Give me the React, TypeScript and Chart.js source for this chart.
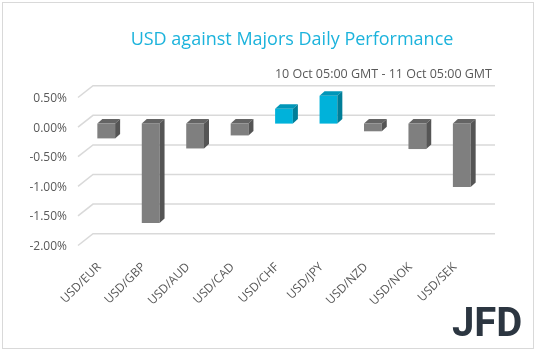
import React, { useEffect, useRef } from 'react';
import { Chart, registerables } from 'chart.js';

Chart.register(...registerables);

const categories = ['USD/EUR', 'USD/GBP', 'USD/AUD', 'USD/CAD', 'USD/CHF', 'USD/JPY', 'USD/NZD', 'USD/NOK', 'USD/SEK'];
const performance = [-0.25, -1.68, -0.42, -0.2, 0.25, 0.47, -0.13, -0.43, -1.07];
const yTicks = [-2, -1.5, -1, -0.5, 0, 0.5];
const titleText = 'USD against Majors Daily Performance';
const subtitleText = '10 Oct 05:00 GMT - 11 Oct 05:00 GMT';
const logoText = 'JFD';

const POS = { front: '#00b2da', top: '#0096b8', side: '#007e98' };
const NEG = { front: '#7f7f7f', top: '#646464', side: '#555555' };
const DX = 5;
const DY = 4.5;

const decorPlugin = {
  id: 'decor',
  beforeDraw(chart: any) {
    const ctx = chart.ctx;
    ctx.save();
    ctx.fillStyle = '#ffffff';
    ctx.fillRect(0, 0, chart.width, chart.height);
    ctx.strokeStyle = '#d9d9d9';
    ctx.lineWidth = 1;
    ctx.strokeRect(2.5, 2.5, 531, 346);
    ctx.fillStyle = '#1cb3dc';
    ctx.font = '18px "Open Sans"';
    ctx.textAlign = 'center';
    ctx.textBaseline = 'middle';
    ctx.fillText(titleText, 292, 40);
    ctx.fillStyle = '#595959';
    ctx.font = '12.5px "Open Sans"';
    ctx.textAlign = 'right';
    ctx.fillText(subtitleText, 492, 74);
    ctx.fillStyle = '#2c3641';
    ctx.font = 'bold 40px Roboto';
    ctx.textAlign = 'left';
    ctx.textBaseline = 'alphabetic';
    ctx.fillText(logoText, 452, 336);
    ctx.restore();
  },
  beforeDatasetsDraw(chart: any) {
    const { ctx, chartArea } = chart;
    const y = chart.scales.y;
    ctx.save();
    ctx.strokeStyle = '#d9d9d9';
    ctx.lineWidth = 1.5;
    yTicks.forEach((v) => {
      const py = y.getPixelForValue(v);
      ctx.beginPath();
      ctx.moveTo(chartArea.left - 6, py + 3.5);
      ctx.lineTo(chartArea.left + 9, py - 8.3);
      ctx.lineTo(chartArea.right + 11, py - 8.3);
      ctx.stroke();
    });
    ctx.restore();
  },
  afterDatasetsDraw(chart: any) {
    const ctx = chart.ctx;
    const meta = chart.getDatasetMeta(0);
    ctx.save();
    meta.data.forEach((bar: any, i: number) => {
      const { x, y, base, width } = bar.getProps(['x', 'y', 'base', 'width'], true);
      const l = x - width / 2;
      const r = x + width / 2;
      const t = Math.min(y, base);
      const b = Math.max(y, base);
      const c = performance[i] >= 0 ? POS : NEG;
      ctx.fillStyle = c.top;
      ctx.beginPath();
      ctx.moveTo(l, t);
      ctx.lineTo(l + DX, t - DY);
      ctx.lineTo(r + DX, t - DY);
      ctx.lineTo(r, t);
      ctx.closePath();
      ctx.fill();
      ctx.fillStyle = c.side;
      ctx.beginPath();
      ctx.moveTo(r, t);
      ctx.lineTo(r + DX, t - DY);
      ctx.lineTo(r + DX, b - DY);
      ctx.lineTo(r, b);
      ctx.closePath();
      ctx.fill();
    });
    ctx.restore();
  },
};

export default function App() {
  const ref = useRef<HTMLCanvasElement | null>(null);
  useEffect(() => {
    if (!ref.current) return;
    const chart = new Chart(ref.current, {
      type: 'bar',
      data: {
        labels: categories,
        datasets: [
          {
            data: performance,
            backgroundColor: performance.map((v) => (v >= 0 ? POS.front : NEG.front)),
            borderWidth: 0,
            barPercentage: 0.4,
            categoryPercentage: 1,
          },
        ],
      },
      options: {
        animation: false,
        responsive: true,
        maintainAspectRatio: false,
        devicePixelRatio: 1,
        layout: { padding: { left: 4, right: 54, top: 94, bottom: 9 } },
        plugins: { legend: { display: false }, tooltip: { enabled: false }, title: { display: false } },
        scales: {
          x: {
            grid: { display: false, drawTicks: false },
            border: { display: false },
            ticks: {
              color: '#595959',
              font: { family: 'Open Sans', size: 12 },
              minRotation: 45,
              maxRotation: 45,
              autoSkip: false,
              padding: 18,
              labelOffset: -7,
            },
            afterFit: (s: any) => {
              s.height = 100;
            },
          },
          y: {
            min: -2,
            max: 0.5,
            grid: { display: false, drawTicks: false },
            border: { display: false },
            ticks: {
              stepSize: 0.5,
              padding: 17,
              labelOffset: 4.5,
              color: '#595959',
              font: { family: 'Open Sans', size: 12 },
              callback: (v: any) => Number(v).toFixed(2) + '%',
            },
            afterFit: (s: any) => {
              s.width = 80;
            },
          },
        },
      },
      plugins: [decorPlugin],
    });
    return () => chart.destroy();
  }, []);
  return (
    <div style={{ position: 'fixed', left: 0, top: 0, width: 538, height: 351 }}>
      <canvas ref={ref} />
    </div>
  );
}
